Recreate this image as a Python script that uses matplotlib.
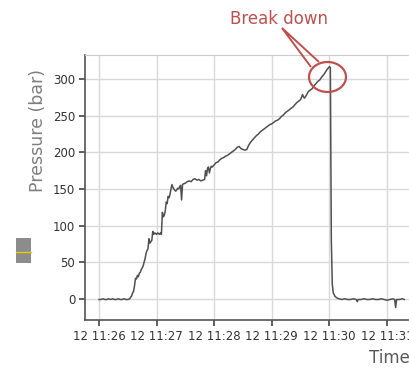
import matplotlib
matplotlib.use("Agg")
import matplotlib.pyplot as plt
import matplotlib.dates as mdates
from matplotlib.patches import Ellipse, Rectangle, Polygon
import pandas as pd

# seconds after 11:26:00 and the logged pressure (bar)
secs = [0, 2, 4, 6, 8, 10, 12, 14, 16, 18, 20, 22, 24, 26, 28, 30, 32,
        33, 34, 35, 36, 37, 38, 39, 40, 41, 42, 43, 44, 45, 46, 47, 48, 49, 50,
        51, 52, 53, 54, 55, 56, 57, 58, 59, 60, 61, 62, 63, 64, 65, 66, 67, 68,
        69, 70, 71, 72, 73, 74, 75, 76, 77, 78, 79, 80, 81, 82, 83, 84, 85, 86,
        87, 88, 90, 92, 94, 96, 98, 100, 102, 104, 106, 108, 110, 111, 112, 113,
        114, 115, 116, 117, 118, 120, 122, 124, 126, 128, 130, 132, 134, 136,
        138, 140, 142, 144, 146, 148, 150, 152, 154, 156, 158, 160, 162, 164,
        166, 168, 170, 172, 174, 176, 178, 180, 182, 184, 186, 188, 190, 192,
        194, 196, 198, 200, 202, 204, 206, 208, 210, 212, 213, 214, 216, 218,
        220, 222, 224, 226, 228, 230, 232, 234, 236, 238, 240, 241, 241.5, 242,
        243, 244, 246, 248, 250, 253, 256, 259, 262, 265, 268, 269, 270, 273,
        276, 279, 282, 285, 288, 291, 294, 297, 300, 303, 306, 308, 309, 310,
        313, 316, 318]
pressure = [-1, -1, 0, -1, -1, 0, -1, 0, -1, -1, 0, -1, -1, 0, -1, -1, 0,
            2, 4, 8, 10, 18, 28, 27, 32, 30, 35, 36, 40, 42, 45, 50, 55, 62, 66,
            68, 82, 76, 78, 80, 92, 88, 90, 89, 88, 90, 89, 88, 90, 88, 118, 112, 114,
            120, 132, 130, 140, 138, 143, 150, 156, 152, 150, 148, 147, 149, 151, 150, 153, 155, 135,
            156, 157, 158, 160, 161, 160, 163, 164, 162, 163, 161, 162, 163, 175, 168, 178,
            180, 172, 178, 181, 180, 183, 186, 187, 190, 192, 193, 195, 196, 198,
            200, 202, 204, 207, 208, 205, 204, 203, 204, 210, 214, 217, 220, 223,
            225, 228, 230, 232, 234, 236, 238, 239, 241, 243, 244, 246, 249, 251,
            254, 256, 258, 260, 262, 265, 268, 270, 272, 279, 276, 274, 278, 283,
            285, 287, 291, 294, 297, 299, 303, 306, 310, 314, 317, 316, 200, 80,
            20, 8, 3, 1, 0, -1, 0, -1, -1, 0, -1, -4, -1, -1,
            0, -1, -1, 0, -1, -1, 0, -1, -2, -1, 0, -1, -12, -1,
            -1, 0, -1]

start = pd.Timestamp("2019-03-12 11:26:00")
times = start + pd.to_timedelta(secs, unit="s")

W, H = 410, 368
fig = plt.figure(figsize=(W / 100, H / 100), dpi=100)
ax = fig.add_axes([85 / W, 1 - 320 / H, (430 - 85) / W, (320 - 55) / H])

ax.plot(times, pressure, color="#505050", lw=1.1)

ax.set_xlim(start - pd.Timedelta(seconds=14.6), start + pd.Timedelta(seconds=344.8))
ax.set_ylim(-29, 333)
ax.set_yticks([0, 50, 100, 150, 200, 250, 300])
ax.xaxis.set_major_locator(mdates.MinuteLocator())
ax.xaxis.set_major_formatter(mdates.DateFormatter("%d %H:%M"))

ax.grid(True, color="#d9d9d9", lw=1)
ax.set_axisbelow(True)
for side in ("left", "bottom"):
    ax.spines[side].set_color("#555555")
    ax.spines[side].set_linewidth(1.2)
ax.spines["top"].set_color("#cccccc")
ax.spines["right"].set_visible(False)
ax.tick_params(labelsize=8.5, colors="#333333", length=4, width=1.1, pad=3)

fig.text(38 / W, 1 - 130 / H, "Pressure (bar)", rotation=90, fontsize=12.5,
         color="#7f7f7f", ha="center", va="center")
fig.text(389 / W, 1 - 358 / H, "Time", fontsize=12, color="#595959",
         ha="center", va="center")

red = "#c0504d"
fig.text(279 / W, 1 - 19 / H, "Break down", fontsize=12, color=red,
         ha="center", va="center")

# callout pointer and circle around the peak
pts = [(311, 67), (282, 28), (319, 62)]
fig.add_artist(Polygon([(x / W, 1 - y / H) for x, y in pts], closed=False,
                       fill=False, edgecolor=red, lw=1.4,
                       transform=fig.transFigure))
fig.add_artist(Ellipse((327.5 / W, 1 - 77 / H), 37 / W, 30 / H, fill=False,
                       edgecolor=red, lw=1.6, transform=fig.transFigure))

# small legend swatch at the left edge
fig.add_artist(Rectangle((16 / W, 1 - 263 / H), 15 / W, 25 / H,
                         facecolor="#8c8c8c", edgecolor="none",
                         transform=fig.transFigure))
fig.add_artist(plt.Line2D([16 / W, 31 / W], [1 - 252 / H, 1 - 252 / H],
                          color="#e0d000", lw=1, transform=fig.transFigure))

fig.savefig("out.png", dpi=100)
